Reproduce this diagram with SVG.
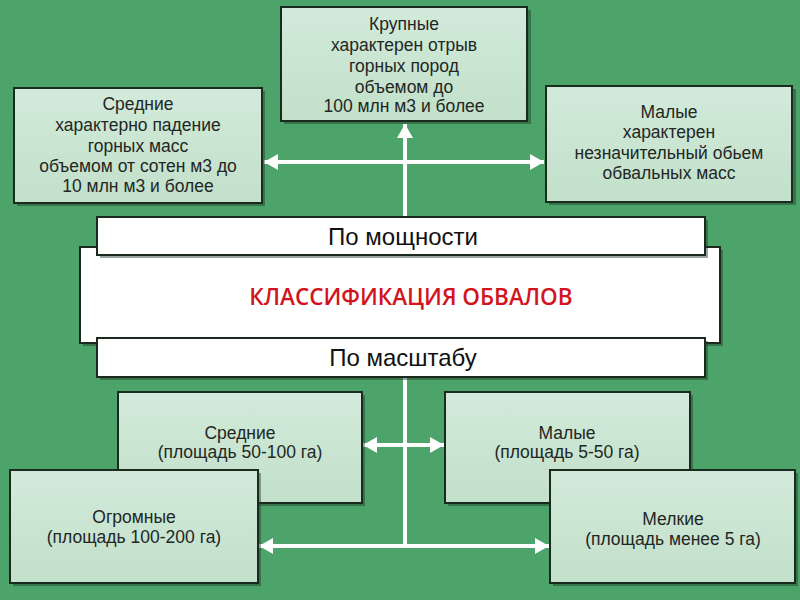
<svg xmlns="http://www.w3.org/2000/svg" width="800" height="600" viewBox="0 0 800 600">
<defs>
<marker id="ah" viewBox="0 0 14 16" refX="14" refY="8" markerWidth="14" markerHeight="16" markerUnits="userSpaceOnUse" orient="auto-start-reverse">
<path d="M0,0 L14,8 L0,16 Z" fill="#ffffff"/>
</marker>
<linearGradient id="g" x1="0" y1="0" x2="0" y2="1">
<stop offset="0" stop-color="#d2eada"/>
<stop offset="1" stop-color="#c2e0ca"/>
</linearGradient>
</defs>
<style>
.box{fill:url(#g);stroke:#1b2a1e;stroke-width:2}
.sh{fill:#1e3a25;opacity:0.45}
.wb{fill:#ffffff;stroke:#1b2a1e;stroke-width:2}
.t{font-family:"Liberation Sans",Arial,sans-serif;font-size:17.5px;fill:#222724;text-anchor:middle}
.h{font-family:"Liberation Sans",Arial,sans-serif;font-size:24px;fill:#111;text-anchor:middle}
.red{font-family:"Open Sans","Liberation Sans",sans-serif;font-size:22.5px;font-weight:600;fill:#d21420;text-anchor:middle}
.c{stroke:#ffffff;stroke-width:4;fill:none}
</style>
<rect width="800" height="600" fill="#4da46a"/>

<g id="connectors">
<line class="c" x1="405" y1="217" x2="405" y2="124" marker-end="url(#ah)"/>
<line class="c" x1="264" y1="162" x2="544" y2="162" marker-start="url(#ah)" marker-end="url(#ah)"/>
<line class="c" x1="405" y1="378" x2="405" y2="548"/>
<line class="c" x1="363" y1="445" x2="444" y2="445" marker-start="url(#ah)" marker-end="url(#ah)"/>
<line class="c" x1="259" y1="546" x2="549" y2="546" marker-start="url(#ah)" marker-end="url(#ah)"/>
</g>

<g id="n-krupnye">
<rect class="sh" x="284" y="10" width="247" height="114"/>
<rect class="box" x="281" y="7" width="246" height="114"/>
<text class="t" x="404" y="30">Крупные</text>
<text class="t" x="404" y="51">характерен отрыв</text>
<text class="t" x="404" y="72">горных пород</text>
<text class="t" x="404" y="93">объемом до</text>
<text class="t" x="404" y="112">100 млн м3 и более</text>
</g>

<g id="n-srednie-top">
<rect class="sh" x="17" y="91" width="248" height="115"/>
<rect class="box" x="14" y="88" width="248" height="115"/>
<text class="t" x="138" y="110">Средние</text>
<text class="t" x="138" y="131">характерно падение</text>
<text class="t" x="138" y="152">горных масс</text>
<text class="t" x="138" y="172">объемом от сотен м3 до</text>
<text class="t" x="138" y="192">10 млн м3 и более</text>
</g>

<g id="n-malye-top">
<rect class="sh" x="549" y="89" width="247" height="116"/>
<rect class="box" x="546" y="86" width="246" height="116"/>
<text class="t" x="669" y="118">Малые</text>
<text class="t" x="669" y="138">характерен</text>
<text class="t" x="669" y="159">незначительный обьем</text>
<text class="t" x="669" y="179">обвальных масс</text>
</g>

<g id="n-main">
<rect class="sh" x="83" y="250" width="640" height="96"/>
<rect class="wb" x="80" y="247" width="640" height="96"/>
<text class="red" x="411" y="305">КЛАССИФИКАЦИЯ  ОБВАЛОВ</text>
</g>

<g id="n-moshnost">
<rect class="sh" x="100" y="220" width="608" height="38"/>
<rect class="wb" x="97" y="217" width="608" height="38"/>
<text class="h" x="403" y="245">По мощности</text>
</g>

<g id="n-masshtab">
<rect class="sh" x="100" y="341" width="608" height="39"/>
<rect class="wb" x="97" y="338" width="608" height="39"/>
<text class="h" x="403" y="366">По масштабу</text>
</g>

<g id="n-srednie-bot">
<rect class="sh" x="121" y="395" width="244" height="111"/>
<rect class="box" x="118" y="392" width="244" height="111"/>
<text class="t" x="240" y="439">Средние</text>
<text class="t" x="240" y="458">(площадь 50-100 га)</text>
</g>

<g id="n-malye-bot">
<rect class="sh" x="448" y="395" width="245" height="111"/>
<rect class="box" x="445" y="392" width="245" height="111"/>
<text class="t" x="567" y="439">Малые</text>
<text class="t" x="567" y="458">(площадь 5-50 га)</text>
</g>

<g id="n-ogromnye">
<rect class="sh" x="13" y="473" width="248" height="113"/>
<rect class="box" x="10" y="470" width="248" height="113"/>
<text class="t" x="134" y="523">Огромные</text>
<text class="t" x="134" y="543">(площадь 100-200 га)</text>
</g>

<g id="n-melkie">
<rect class="sh" x="553" y="473" width="245" height="113"/>
<rect class="box" x="550" y="470" width="245" height="113"/>
<text class="t" x="673" y="525">Мелкие</text>
<text class="t" x="673" y="545">(площадь менее 5 га)</text>
</g>
</svg>
